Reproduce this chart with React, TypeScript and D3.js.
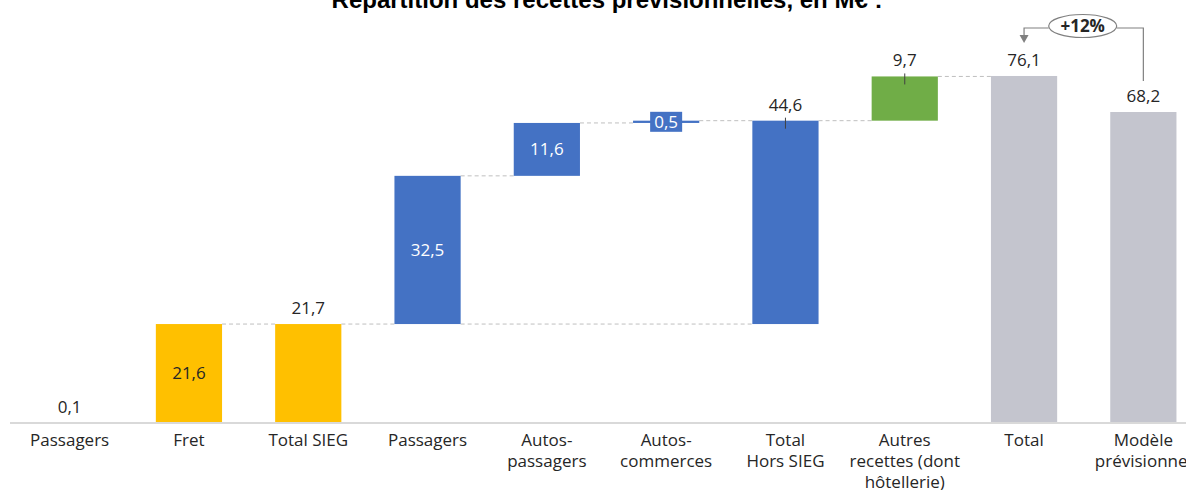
import React from "react";
import * as d3 from "d3";

const categories: string[][] = [
  ["Passagers"],
  ["Fret"],
  ["Total SIEG"],
  ["Passagers"],
  ["Autos-", "passagers"],
  ["Autos-", "commerces"],
  ["Total", "Hors SIEG"],
  ["Autres", "recettes (dont", "hôtellerie)"],
  ["Total"],
  ["Modèle", "prévisionnel"],
];
const values: number[] = [0.1, 21.6, 21.7, 32.5, 11.6, 0.5, 44.6, 9.7, 76.1, 68.2];
// "delta": floating step; "total": from zero; "subtotal": floating sum of the group
const kinds: string[] = ["delta", "delta", "total", "delta", "delta", "delta", "subtotal", "delta", "total", "total"];
const groups: string[] = ["sieg", "sieg", "sieg", "hors", "hors", "hors", "hors", "autres", "total", "total"];
const labelPos: string[] = ["above", "inside", "above", "inside", "inside", "box", "above", "above", "above", "above"];
const title = "Répartition des recettes prévisionnelles, en M€ :";
const growthLabel = "+12%";

const colors: Record<string, string> = {
  sieg: "#FFC000",
  hors: "#4472C4",
  autres: "#70AD47",
  total: "#C4C5CE",
};
const labelColors: Record<string, string> = {
  sieg: "#262626",
  hors: "#FFFFFF",
  autres: "#262626",
  total: "#262626",
};

const fmt = (v: number) => v.toFixed(1).replace(".", ",");

export default function App() {
  const W = 1186;
  const H = 490;
  const x = d3
    .scaleBand<number>()
    .domain(d3.range(categories.length))
    .range([10, 1203])
    .paddingInner(0.445)
    .paddingOuter(0.2225);
  const y = d3.scaleLinear().domain([0, 80]).range([423, 423 - 80 * 4.56]);
  const bw = x.bandwidth();

  let cum = 0;
  const bars = values.map((v, i) => {
    let base: number, top: number;
    if (kinds[i] === "delta") {
      base = cum;
      top = cum + v;
      cum = top;
    } else if (kinds[i] === "subtotal") {
      base = cum - v;
      top = cum;
    } else {
      base = 0;
      top = v;
    }
    return { i, v, base, top };
  });

  const connectors: { x1: number; x2: number; yv: number }[] = [];
  for (let i = 0; i < bars.length - 2; i++) {
    connectors.push({ x1: x(i)! + bw, x2: x(i + 1)!, yv: bars[i].top });
  }
  const firstHors = groups.indexOf("hors");
  const subIdx = kinds.indexOf("subtotal");
  connectors.push({ x1: x(firstHors)! + bw, x2: x(subIdx)!, yv: bars[subIdx].base });

  const font = "'Open Sans', sans-serif";
  const grey = "#808080";
  const iA = categories.length - 2;
  const iB = categories.length - 1;
  const cA = x(iA)! + bw / 2;
  const cB = x(iB)! + bw / 2;
  const ex = (cA + cB) / 2 - 1;
  const ey = 26;
  const rx = 34;
  const ry = 11.5;
  const fs = 17;

  return (
    <svg width={W} height={H} style={{ position: "absolute", left: 0, top: 0, background: "#fff" }} fontFamily={font}>
      <text x={607} y={8} textAnchor="middle" fontFamily="'Liberation Sans', Arial, sans-serif" fontWeight="bold" fontSize={24} fill="#000">
        {title}
      </text>

      {connectors.map((c, k) => (
        <line key={"c" + k} x1={c.x1} x2={c.x2} y1={y(c.yv)} y2={y(c.yv)} stroke="#BFBFBF" strokeWidth={1} strokeDasharray="4 3" />
      ))}

      {bars.map((b) => (
        <rect
          key={"b" + b.i}
          x={x(b.i)}
          y={y(Math.max(b.base, b.top))}
          width={bw}
          height={Math.max(Math.abs(y(b.base) - y(b.top)), 0)}
          fill={colors[groups[b.i]]}
        />
      ))}

      <line x1={10} x2={W} y1={y(0)} y2={y(0)} stroke="#D9D9D9" strokeWidth={2} />

      {bars.map((b) => {
        const cx = x(b.i)! + bw / 2;
        const pos = labelPos[b.i];
        const g = groups[b.i];
        if (pos === "inside") {
          return (
            <text key={"l" + b.i} x={cx} y={(y(b.base) + y(b.top)) / 2 + 6} textAnchor="middle" fontSize={fs} fill={labelColors[g]}>
              {fmt(b.v)}
            </text>
          );
        }
        if (pos === "box") {
          const cy = (y(b.base) + y(b.top)) / 2;
          return (
            <g key={"l" + b.i}>
              <rect x={cx - 16} y={cy - 10} width={32} height={20} fill={colors[g]} />
              <text x={cx} y={cy + 6} textAnchor="middle" fontSize={fs} fill="#FFFFFF">
                {fmt(b.v)}
              </text>
            </g>
          );
        }
        const ty = y(b.top);
        const showTick = kinds[b.i] === "subtotal" || (kinds[b.i] === "delta" && g === "autres");
        return (
          <g key={"l" + b.i}>
            {showTick && <line x1={cx} x2={cx} y1={ty - 3} y2={ty + 8} stroke="#404040" strokeWidth={1} />}
            <text x={cx} y={ty - 10} textAnchor="middle" fontSize={fs} fill="#262626">
              {fmt(b.v)}
            </text>
          </g>
        );
      })}

      {categories.map((lines, i) => (
        <text key={"x" + i} x={x(i)! + bw / 2} textAnchor="middle" fontSize={17} fill="#262626">
          {lines.map((ln, k) => (
            <tspan key={k} x={x(i)! + bw / 2} y={446 + k * 21}>
              {ln}
            </tspan>
          ))}
        </text>
      ))}

      <polyline points={`${ex - rx},${ey + 2} ${cA},${ey + 2} ${cA},${ey + 10}`} fill="none" stroke={grey} strokeWidth={1.2} />
      <path d={`M${cA - 4.5},${ey + 9} L${cA + 4.5},${ey + 9} L${cA},${ey + 17} Z`} fill={grey} />
      <polyline points={`${ex + rx},${ey + 2} ${cB},${ey + 2} ${cB},${y(values[iB]) - 31}`} fill="none" stroke={grey} strokeWidth={1.2} />
      <ellipse cx={ex} cy={ey} rx={rx} ry={ry} fill="#fff" stroke={grey} strokeWidth={1.2} />
      <text x={ex} y={ey + 6} textAnchor="middle" fontSize={17} fontWeight="bold" fill="#262626">
        {growthLabel}
      </text>
    </svg>
  );
}
